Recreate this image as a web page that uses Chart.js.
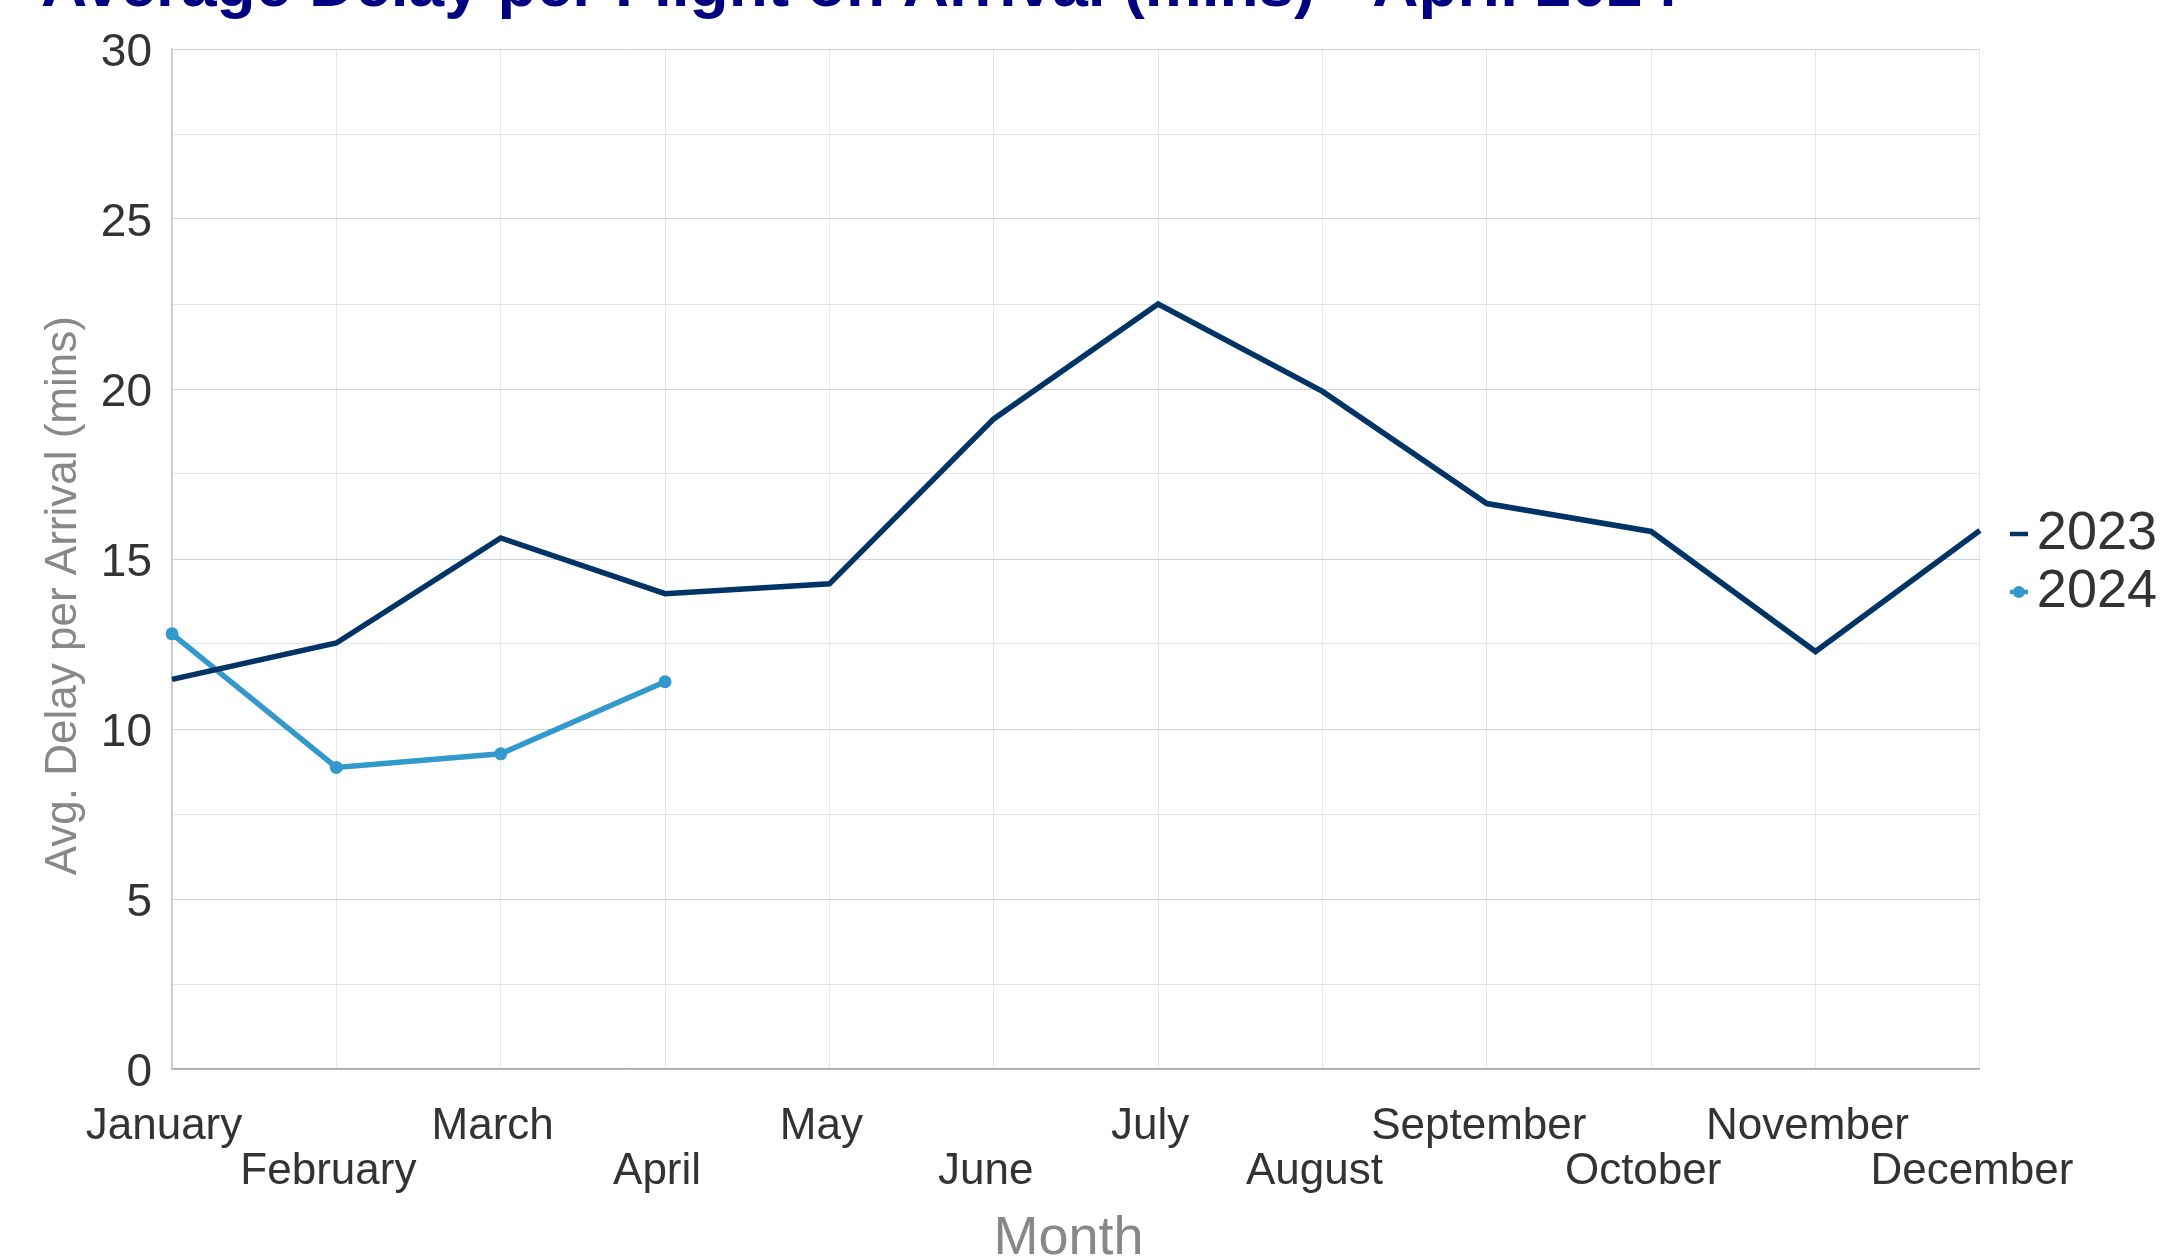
<!DOCTYPE html>
<html>
<head>
<meta charset="utf-8">
<script src="https://cdn.jsdelivr.net/npm/chart.js@4/dist/chart.umd.min.js"></script>
<style>
  html, body { margin: 0; padding: 0; background: #ffffff; }
  #wrap { width: 2168px; height: 1256px; }
</style>
</head>
<body>
<div id="wrap"><canvas id="c" width="2168" height="1256"></canvas></div>
<script>
// ---- data ----
const months = ['January', 'February', 'March', 'April', 'May', 'June',
                'July', 'August', 'September', 'October', 'November', 'December'];
const seriesNames = ['2023', '2024'];
const delay2023 = [11.46, 12.53, 15.62, 13.98, 14.27, 19.12, 22.5, 19.93, 16.63, 15.81, 12.28, 15.84];
const delay2024 = [12.8, 8.87, 9.27, 11.39];
const yTickLabels = [0, 5, 10, 15, 20, 25, 30];
const chartTitle = 'Average Delay per Flight on Arrival (mins) - April 2024';
const xTitle = 'Month';
const yTitle = 'Avg. Delay per Arrival (mins)';

// ---- styles ----
const C2023 = '#003366';
const C2024 = '#3399cc';
const FONT = "'Liberation Sans', Arial, Helvetica, sans-serif";

function makeMarker(color, withDot) {
  const cv = document.createElement('canvas');
  cv.width = 62; cv.height = 16;
  const g = cv.getContext('2d');
  g.strokeStyle = color; g.lineWidth = 4.5;
  g.beginPath(); g.moveTo(44, 8); g.lineTo(62, 8); g.stroke();
  if (withDot) {
    g.fillStyle = color;
    g.beginPath(); g.arc(53, 8, 6, 0, Math.PI * 2); g.fill();
  }
  return cv;
}
const markers = [makeMarker(C2023, false), makeMarker(C2024, true)];

Chart.defaults.font.family = FONT;

new Chart(document.getElementById('c'), {
  type: 'line',
  data: {
    labels: months,
    datasets: [
      {
        label: seriesNames[0],
        data: delay2023,
        borderColor: C2023,
        backgroundColor: C2023,
        borderWidth: 5.5,
        pointRadius: 0,
        pointHoverRadius: 0,
        tension: 0,
        fill: false
      },
      {
        label: seriesNames[1],
        data: delay2024,
        borderColor: C2024,
        backgroundColor: C2024,
        borderWidth: 5.5,
        pointRadius: 6.5,
        pointBorderWidth: 0,
        pointBackgroundColor: C2024,
        tension: 0,
        fill: false
      }
    ]
  },
  options: {
    responsive: false,
    animation: false,
    devicePixelRatio: 1,
    layout: { padding: { top: 0, left: 41, right: 1, bottom: 0 } },
    plugins: {
      tooltip: { enabled: false },
      title: {
        display: true,
        text: chartTitle,
        align: 'start',
        color: '#000080',
        font: { size: 64, weight: 'bold', lineHeight: 1.2 },
        padding: { top: -50, bottom: 22.2 }
      },
      legend: {
        display: true,
        position: 'right',
        align: 'center',
        fullSize: false,
        title: { display: true, text: ' ', font: { size: 8, lineHeight: 1 }, padding: 0 },
        labels: {
          color: '#333333',
          font: { size: 54 },
          padding: 4,
          usePointStyle: true,
          pointStyleWidth: 26,
          generateLabels(chart) {
            const items = Chart.defaults.plugins.legend.labels.generateLabels(chart);
            items.forEach(it => { it.pointStyle = markers[it.datasetIndex]; });
            return items;
          }
        }
      }
    },
    scales: {
      x: {
        type: 'category',
        offset: false,
        afterFit(scale) { scale.height = 187; },
        grid: { color: '#e7e8ef', lineWidth: 1, drawTicks: false },
        border: { display: true, color: '#a9a9a9', width: 1.5 },
        ticks: {
          autoSkip: false,
          maxRotation: 0,
          minRotation: 0,
          padding: 35.5,
          labelOffset: -8,
          color: '#333333',
          font: { size: 44, lineHeight: 1.02 },
          callback(value, index) {
            const name = months[index];
            return index % 2 === 1 ? ['', name] : name;
          }
        },
        title: {
          display: true,
          text: xTitle + ' ',
          color: '#888888',
          font: { size: 54, lineHeight: 1 },
          padding: { top: 0, bottom: -10 }
        }
      },
      y: {
        min: 0,
        max: 30,
        afterFit(scale) { scale.width = 131; },
        grid: {
          drawTicks: false,
          lineWidth: 1,
          color(ctx) {
            const v = ctx.tick ? ctx.tick.value : 0;
            return yTickLabels.includes(v) ? '#cdd3de' : '#e1e4eb';
          }
        },
        border: { display: true, color: '#c4c4c4', width: 1.5 },
        ticks: {
          stepSize: 2.5,
          padding: 20,
          labelOffset: 4,
          color: '#333333',
          font: { size: 46 },
          callback(value) {
            return yTickLabels.includes(value) ? String(value) : '';
          }
        },
        title: {
          display: true,
          text: yTitle + '      ',
          color: '#888888',
          font: { size: 44, lineHeight: 1 },
          padding: { top: 1, bottom: 0 }
        }
      }
    }
  }
});
</script>
</body>
</html>
